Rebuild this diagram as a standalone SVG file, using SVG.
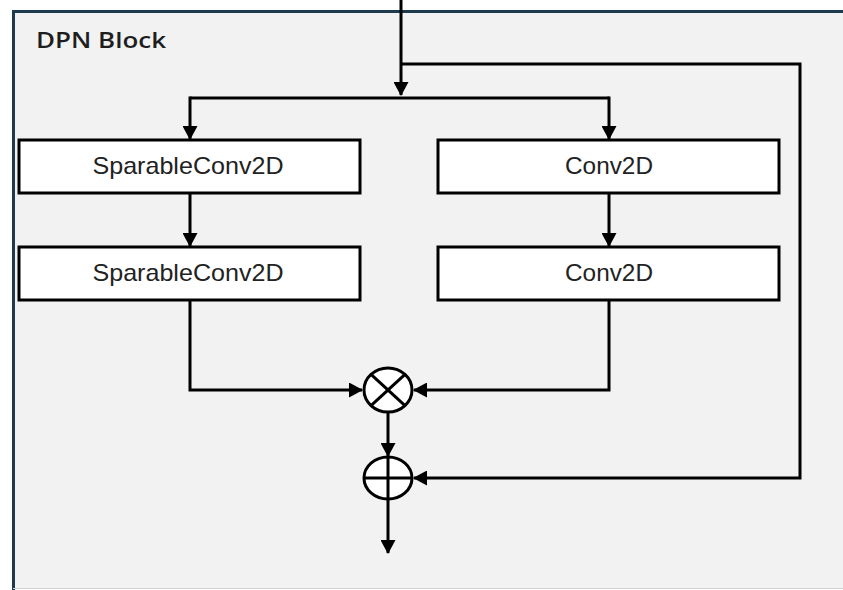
<svg xmlns="http://www.w3.org/2000/svg" width="843" height="590" viewBox="0 0 843 590">
  <style>
    .box { fill: #ffffff; stroke: #000000; stroke-width: 3; }
    .lbl { font-family: "Liberation Sans", Arial, sans-serif; font-size: 24px; fill: #222222; text-anchor: middle; }
    .wire { fill: none; stroke: #000000; stroke-width: 3; }
    .op { fill: #ffffff; stroke: #000000; stroke-width: 3; }
  </style>
  <defs>
    <marker id="ah" markerUnits="userSpaceOnUse" markerWidth="14" markerHeight="15" refX="13" refY="7.5" orient="auto">
      <path d="M0,0 L14,7.5 L0,15 Z" fill="#000000"/>
    </marker>
  </defs>
  <rect x="0" y="0" width="843" height="590" fill="#ffffff"/>
  <g id="frame">
    <rect x="13" y="11" width="835" height="577" fill="#f2f2f2"/>
    <line x1="12" y1="11.5" x2="843" y2="11.5" stroke="#1d3a4e" stroke-width="3"/>
    <line x1="13.5" y1="10" x2="13.5" y2="590" stroke="#1d3a4e" stroke-width="3"/>
    <line x1="13" y1="588.5" x2="843" y2="588.5" stroke="#d0d0d0" stroke-width="1"/>
    <text x="36" y="48" font-family="'Open Sans', 'Liberation Sans', sans-serif" font-size="22" font-weight="600" fill="#1e1e1e" textLength="130" lengthAdjust="spacingAndGlyphs">DPN Block</text>
  </g>
  <g id="connectors">
    <line class="wire" x1="401" y1="0" x2="401" y2="95" marker-end="url(#ah)"/>
    <polyline class="wire" points="401,64 800,64 800,478 414,478" marker-end="url(#ah)"/>
    <polyline class="wire" points="190,98 609,98"/>
    <line class="wire" x1="190" y1="96.5" x2="190" y2="139" marker-end="url(#ah)"/>
    <line class="wire" x1="609" y1="96.5" x2="609" y2="139" marker-end="url(#ah)"/>
    <line class="wire" x1="190" y1="193" x2="190" y2="246" marker-end="url(#ah)"/>
    <line class="wire" x1="609" y1="193" x2="609" y2="246" marker-end="url(#ah)"/>
    <polyline class="wire" points="190,300 190,390 362,390" marker-end="url(#ah)"/>
    <polyline class="wire" points="609,300 609,390 414,390" marker-end="url(#ah)"/>
    <line class="wire" x1="388" y1="413" x2="388" y2="456" marker-end="url(#ah)"/>
    <line class="wire" x1="388" y1="500" x2="388" y2="553" marker-end="url(#ah)"/>
  </g>
  <g id="sep1">
    <rect class="box" x="19" y="140" width="341" height="53"/>
    <text class="lbl" x="188" y="174" textLength="191" lengthAdjust="spacingAndGlyphs">SparableConv2D</text>
  </g>
  <g id="sep2">
    <rect class="box" x="19" y="247" width="341" height="53"/>
    <text class="lbl" x="188" y="281" textLength="191" lengthAdjust="spacingAndGlyphs">SparableConv2D</text>
  </g>
  <g id="conv1">
    <rect class="box" x="438" y="140" width="341" height="53"/>
    <text class="lbl" x="609" y="174" textLength="88" lengthAdjust="spacingAndGlyphs">Conv2D</text>
  </g>
  <g id="conv2">
    <rect class="box" x="438" y="247" width="341" height="53"/>
    <text class="lbl" x="609" y="281" textLength="88" lengthAdjust="spacingAndGlyphs">Conv2D</text>
  </g>
  <g id="multiply">
    <ellipse class="op" cx="388" cy="390" rx="24" ry="22"/>
    <line class="wire" x1="371" y1="374.4" x2="405" y2="405.6"/>
    <line class="wire" x1="405" y1="374.4" x2="371" y2="405.6"/>
  </g>
  <g id="add">
    <ellipse class="op" cx="388" cy="478" rx="24" ry="21"/>
    <line class="wire" x1="364" y1="478" x2="412" y2="478"/>
    <line class="wire" x1="388" y1="457" x2="388" y2="499"/>
  </g>
</svg>
